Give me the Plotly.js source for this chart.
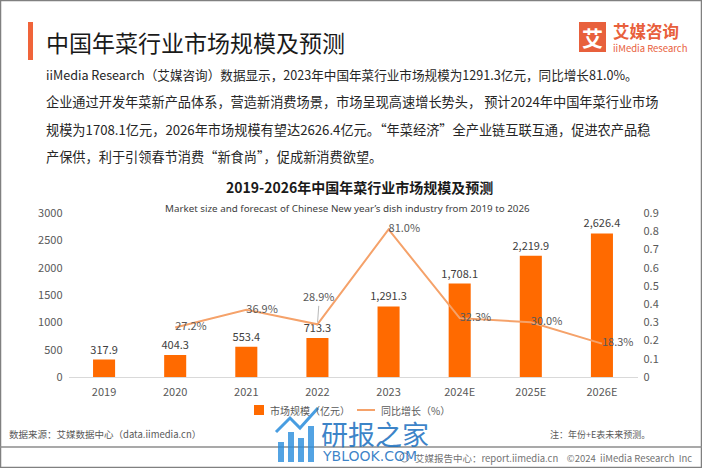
<!DOCTYPE html>
<html><head><meta charset="utf-8">
<script src="https://cdn.plot.ly/plotly-3.0.1.min.js"></script>
<style>html,body{margin:0;padding:0;background:#fff}#chart{width:702px;height:468px}</style>
</head><body><div id="chart"></div>
<script>
// ---- data ----
const years = ['2019','2020','2021','2022','2023','2024E','2025E','2026E'];
const marketSize = [317.9, 404.3, 553.4, 713.3, 1291.3, 1708.1, 2219.9, 2626.4];
const growthYears = ['2020','2021','2022','2023','2024E','2025E','2026E'];
const growthRate = [0.272, 0.369, 0.289, 0.810, 0.323, 0.300, 0.183];
const leftTicks = [0, 500, 1000, 1500, 2000, 2500, 3000];
const rightTicks = [0, 0.1, 0.2, 0.3, 0.4, 0.5, 0.6, 0.7, 0.8, 0.9];
const rightTickLabels = ['0','0.1','0.2','0.3','0.4','0.5','0.6','0.7','0.8','0.9'];
const barName = '市场规模（亿元）';
const lineName = '同比增长（%）';
const pageTitle = '中国年菜行业市场规模及预测';
const chartTitle = '2019-2026年中国年菜行业市场规模及预测';
const chartSubtitle = "Market size and forecast of Chinese New year’s dish industry from 2019 to 2026";
const paragraphLines = [
  'iiMedia Research（艾媒咨询）数据显示，2023年中国年菜行业市场规模为1291.3亿元，同比增长81.0%。',
  '企业通过开发年菜新产品体系，营造新消费场景，市场呈现高速增长势头， 预计2024年中国年菜行业市场',
  '规模为1708.1亿元，2026年市场规模有望达2626.4亿元。“年菜经济”全产业链互联互通，促进农产品稳',
  '产保供，利于引领春节消费“新食尚”，促成新消费欲望。'
];
const sourceText = '数据来源：艾媒数据中心（data.iimedia.cn）';
const noteText = '注：年份+E表未来预测。';
const footerText = '艾媒报告中心：report.iimedia.cn&nbsp;&nbsp;&nbsp;&nbsp;©2024&nbsp;&nbsp;iiMedia Research&nbsp;&nbsp;Inc';
const logoCn = '艾媒咨询';
const logoEn = 'iiMedia Research';
const watermarkCn = '研报之家';
const watermarkEn = 'YBLOOK.COM';

// ---- helpers ----
const W = 702, H = 468;
const px = x => x / W;
const py = y => 1 - y / H;
const CJK = '"Noto Sans CJK SC", "Noto Sans", sans-serif';
const BAR_COLOR = '#FF6A00';
const LINE_COLOR = '#F5A26A';

const pctLabel = v => (v * 100).toFixed(1) + '%';
const leaderYear = '2022';
const lineText = growthRate.map((v, i) => growthYears[i] === leaderYear ? '' : pctLabel(v));

const traces = [
  {
    type: 'bar', name: barName, x: years, y: marketSize,
    marker: {color: BAR_COLOR},
    texttemplate: '%{y:,.1f}', textposition: 'outside', cliponaxis: false, constraintext: 'none',
    textfont: {family: CJK, size: 11, color: '#404040'},
    hoverinfo: 'x+y', showlegend: false
  },
  {
    type: 'scatter', mode: 'lines+text', name: lineName, x: growthYears, y: growthRate,
    yaxis: 'y2', line: {color: LINE_COLOR, width: 2},
    text: lineText, textposition: 'middle right', cliponaxis: false,
    textfont: {family: CJK, size: 11, color: '#595959'}, showlegend: false
  }
];

const annotations = [];
function addText(text, x, y, size, color, opts) {
  annotations.push(Object.assign({
    text: text, x: px(x), y: py(y), xref: 'paper', yref: 'paper',
    xanchor: 'left', yanchor: 'middle', showarrow: false,
    font: {family: CJK, size: size, color: color}
  }, opts || {}));
}
addText(pageTitle, 44, 42, 23, '#1a1a1a');
const paraY = [74, 101, 129, 157];
const paraSize = [12.6, 13.2, 13.2, 13.2];
paragraphLines.forEach((t, i) => addText(t, 44, paraY[i], paraSize[i], '#262626'));
addText('<b>' + chartTitle + '</b>', 360, 187, 14, '#1a1a1a', {xanchor: 'center'});
addText(chartSubtitle, 347, 208, 9.8, '#404040', {xanchor: 'center', font: {family: '"Noto Sans", sans-serif', size: 9.8, color: '#404040'}});
// legend (drawn manually to match the compact original legend)
addText(barName, 268, 410, 10, '#595959');
addText(lineName, 379, 410, 10, '#595959');
addText(sourceText, 7, 434, 9.5, '#595959');
addText(noteText, 548, 434, 9, '#595959');
addText(footerText, 413, 458, 9.5, '#737373');
addText('<b>艾</b>', 592.5, 37, 21, '#ffffff', {xanchor: 'center'});
addText('<b>' + logoCn + '</b>', 611, 31, 16.5, '#E8603C');
addText(logoEn, 611, 48, 9.5, '#E8603C');
addText(watermarkCn, 319, 433, 27, 'rgba(24,110,190,0.85)');
addText(watermarkEn, 320, 456, 14, 'rgba(24,110,190,0.85)', {font: {family: '"DejaVu Sans", sans-serif', size: 14, color: 'rgba(24,110,190,0.85)'}});

// leader-line label for 2022 growth point (category axes take the category index)
const li = growthYears.indexOf(leaderYear);
annotations.push({
  x: years.indexOf(leaderYear), y: growthRate[li], xref: 'x', yref: 'y2',
  text: pctLabel(growthRate[li]), showarrow: true, arrowhead: 0,
  arrowcolor: '#a6a6a6', arrowwidth: 0.8, ax: 2, ay: -28, standoff: 2,
  font: {family: CJK, size: 11, color: '#595959'}
});

const shapes = [
  {type: 'rect', xref: 'paper', yref: 'paper', x0: 0, x1: 1, y0: 0, y1: 1, line: {color: '#808080', width: 2.5}},
  {type: 'line', xref: 'paper', yref: 'paper', x0: 0, x1: 1, y0: py(447), y1: py(447), line: {color: '#8c8c8c', width: 1.5}},
  {type: 'rect', xref: 'paper', yref: 'paper', x0: px(28), x1: px(33), y0: py(60), y1: py(22), fillcolor: '#F0643A', line: {width: 0}},
  {type: 'rect', xref: 'paper', yref: 'paper', x0: px(579), x1: px(606), y0: py(52), y1: py(22), fillcolor: '#E8603C', line: {width: 0}},
  // legend symbols
  {type: 'rect', xref: 'paper', yref: 'paper', x0: px(254), x1: px(264), y0: py(415), y1: py(405), fillcolor: BAR_COLOR, line: {width: 0}},
  {type: 'line', xref: 'paper', yref: 'paper', x0: px(357), x1: px(375), y0: py(410), y1: py(410), line: {color: LINE_COLOR, width: 2}},
  // footer icon
  {type: 'circle', xref: 'paper', yref: 'paper', x0: px(400), x1: px(409), y0: py(462), y1: py(453), line: {color: '#8c8c8c', width: 1}},
  // watermark icon
  {type: 'rect', xref: 'paper', yref: 'paper', x0: px(278), x1: px(284), y0: py(462), y1: py(442), fillcolor: 'rgba(40,140,220,0.8)', line: {width: 0}},
  {type: 'rect', xref: 'paper', yref: 'paper', x0: px(288), x1: px(294), y0: py(462), y1: py(432), fillcolor: 'rgba(40,140,220,0.8)', line: {width: 0}},
  {type: 'rect', xref: 'paper', yref: 'paper', x0: px(298), x1: px(304), y0: py(462), y1: py(438), fillcolor: 'rgba(40,140,220,0.8)', line: {width: 0}},
  {type: 'rect', xref: 'paper', yref: 'paper', x0: px(308), x1: px(314), y0: py(462), y1: py(426), fillcolor: 'rgba(40,140,220,0.8)', line: {width: 0}},
  {type: 'path', xref: 'paper', yref: 'paper',
   path: `M ${px(276)} ${py(432)} L ${px(290)} ${py(418)} L ${px(300)} ${py(428)} L ${px(318)} ${py(408)}`,
   line: {color: 'rgba(40,140,220,0.85)', width: 3}}
];

const layout = {
  width: W, height: H, autosize: false,
  margin: {l: 0, r: 0, t: 0, b: 0, pad: 0},
  paper_bgcolor: '#ffffff', plot_bgcolor: '#ffffff',
  showlegend: false,
  bargap: 0.69,
  xaxis: {domain: [px(68.5), px(637.5)], type: 'category', categoryorder: 'array', categoryarray: years,
          range: [-0.5, years.length - 0.5], autorange: false,
          showline: true, linecolor: '#D9D9D9', linewidth: 1, ticks: '', showgrid: false, zeroline: false,
          tickfont: {family: CJK, size: 11, color: '#595959'}, ticklabelstandoff: 5},
  yaxis: {domain: [py(377), py(213)], range: [0, 3000], autorange: false, tickvals: leftTicks, ticktext: leftTicks.map(String),
          showgrid: false, zeroline: false, showline: false, ticks: '',
          tickfont: {family: CJK, size: 11, color: '#595959'}, ticklabelstandoff: 5},
  yaxis2: {domain: [py(377), py(213)], overlaying: 'y', side: 'right', anchor: 'x', range: [0, 0.9], autorange: false,
           tickvals: rightTicks, ticktext: rightTickLabels,
           showgrid: false, zeroline: false, showline: false, ticks: '',
           tickfont: {family: CJK, size: 11, color: '#595959'}, ticklabelstandoff: 5},
  annotations: annotations,
  shapes: shapes
};

Plotly.newPlot('chart', traces, layout, {displayModeBar: false, staticPlot: true});
</script>
</body></html>
